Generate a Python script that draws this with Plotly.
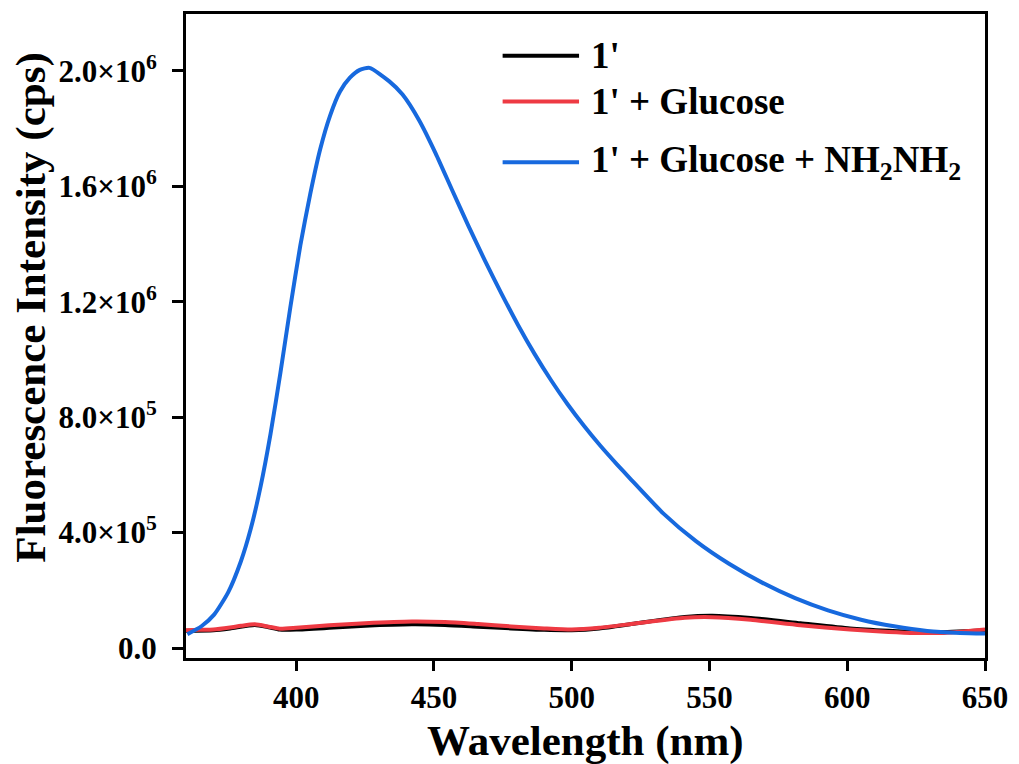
import plotly.graph_objects as go

# ---- data ----
wl_blank = [360, 370, 376, 385, 390, 394, 400, 412, 425, 442, 454, 466, 478, 490, 500,
            510, 523, 541, 551, 565, 583, 601, 615, 625, 635, 643, 650]
int_blank = [60000, 62000, 68000, 80000, 72000, 64000, 64000, 70000, 77000, 82000, 80000,
             74000, 68000, 63000, 62000, 68000, 85000, 108000, 112000, 104000, 86000,
             68000, 60000, 56000, 55000, 58000, 62000]

wl_glu = [360, 365, 370, 376, 380, 385, 390, 394, 400, 412, 425, 442, 454, 466, 478, 490,
          500, 510, 523, 541, 551, 565, 583, 601, 615, 625, 635, 643, 650]
int_glu = [62000, 63000, 64000, 71000, 77000, 82000, 74000, 67000, 70000, 79000, 86000,
           92000, 90000, 83000, 75000, 68000, 64000, 70000, 85000, 105000, 107000, 98000,
           79000, 64000, 56000, 52500, 52500, 58000, 64000]

wl_hyd = [360.5, 365.6, 370.2, 375.3, 379.9, 383.5, 387.1, 390.7, 394.3, 397.9, 401.5,
          405.1, 408.7, 412.3, 415.9, 419.5, 423.1, 426.6, 433.8, 438.6, 444.6, 450.6,
          456.5, 462.5, 468.5, 474.5, 480.5, 486.5, 492.5, 498.5, 504.5, 510.4, 516.4,
          521.2, 533.2, 545.2, 557.1, 569.1, 581.1, 593.0, 605.0, 617.0, 629.0, 641.0, 650]
int_hyd = [48000, 75500, 115700, 192600, 299700, 413000, 560700, 742700, 955500, 1182200,
           1395000, 1573600, 1728100, 1844800, 1928000, 1976000, 2003000, 2010000, 1963300,
           1917600, 1828700, 1714000, 1588700, 1462700, 1342200, 1228200, 1119300, 1019100,
           927700, 844600, 769100, 700800, 636600, 587100, 466600, 369400, 291800, 226600,
           172700, 130500, 98200, 75200, 59000, 52000, 50000]

names = ["1'", "1' + Glucose", "1' + Glucose + NH<sub>2</sub>NH<sub>2</sub>"]
colors = ["#000000", "#EE3A43", "#1769DE"]

x_ticks = [400, 450, 500, 550, 600, 650]
y_ticks = [0, 400000, 800000, 1200000, 1600000, 2000000]
y_ticktext = ["0.0", "4.0×10<sup>5</sup>", "8.0×10<sup>5</sup>", "1.2×10<sup>6</sup>",
              "1.6×10<sup>6</sup>", "2.0×10<sup>6</sup>"]

FONT = "Liberation Serif"

fig = go.Figure()
for wl, iv, nm, col in [(wl_blank, int_blank, names[0], colors[0]),
                        (wl_glu, int_glu, names[1], colors[1]),
                        (wl_hyd, int_hyd, names[2], colors[2])]:
    fig.add_trace(go.Scatter(x=wl, y=iv, mode="lines", name=nm,
                             line=dict(color=col, width=4, shape="spline", smoothing=0.6),
                             showlegend=False))

W, H = 1019, 764
ml, mr, mt, mb = 186, 28, 11, 106
pw, ph = W - ml - mr, H - mt - mb

fig.update_layout(
    width=W, height=H,
    margin=dict(l=ml, r=mr, t=mt, b=mb, pad=0),
    paper_bgcolor="white", plot_bgcolor="white",
    font=dict(family=FONT, color="black"),
    xaxis=dict(range=[360, 650], tickvals=x_ticks, showgrid=False, zeroline=False,
               showline=True, linewidth=3, linecolor="black", mirror=True,
               ticks="outside", ticklen=10, tickwidth=3, tickcolor="black",
               ticklabelstandoff=0,
               tickfont=dict(family=FONT, size=31, color="black", weight="bold")),
    yaxis=dict(range=[-34500, 2196600], tickvals=y_ticks, ticktext=y_ticktext,
               showgrid=False, zeroline=False,
               showline=True, linewidth=3, linecolor="black", mirror=True,
               ticks="outside", ticklen=11, tickwidth=3, tickcolor="black",
               ticklabelstandoff=9,
               tickfont=dict(family=FONT, size=31, color="black", weight="bold")),
)

# axis titles
fig.add_annotation(text="<b>Wavelength (nm)</b>", xref="paper", yref="paper",
                   x=0.5, y=0, yshift=-(741 - (H - mb)), xanchor="center", yanchor="middle",
                   showarrow=False, font=dict(family=FONT, size=43, color="black"))
fig.add_annotation(text="<b>Fluorescence Intensity (cps)</b>", xref="paper", yref="paper",
                   x=0, xshift=-(ml - 31), y=(H - mb - 306) / ph, xanchor="center",
                   yanchor="middle", textangle=-90, showarrow=False,
                   font=dict(family=FONT, size=43, color="black"))

# legend (manual, inside plot)
leg_y = [53, 99, 160]
for yy, nm, col in zip(leg_y, names, colors):
    yp = (H - mb - yy) / ph
    fig.add_shape(type="line", xref="paper", yref="paper",
                  x0=(505 - ml) / pw, x1=(582 - ml) / pw, y0=yp, y1=yp,
                  line=dict(color=col, width=4))
    fig.add_annotation(text="<b>" + nm + "</b>", xref="paper", yref="paper",
                       x=(592 - ml) / pw, y=yp, xanchor="left", yanchor="middle",
                       showarrow=False, font=dict(family=FONT, size=37, color="black"))

fig.write_html("out.html")
